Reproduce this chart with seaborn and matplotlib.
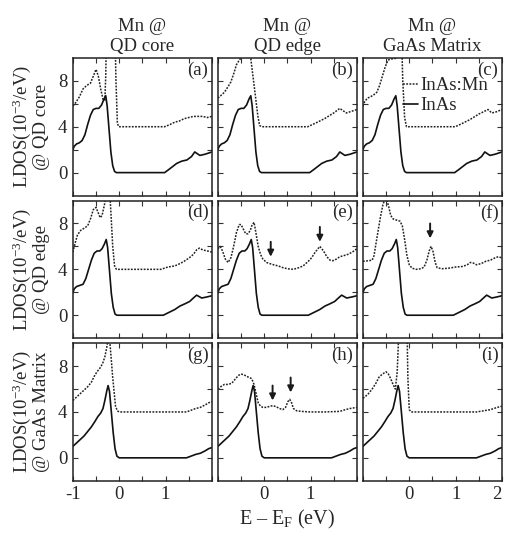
import matplotlib
matplotlib.use("Agg")
import matplotlib.pyplot as plt
import seaborn as sns

# Energy E - E_F (eV) and LDOS (10^-3/eV).
# Solid curves: pristine InAs, one per probe site (row).
E_core = [-1.0, -0.97, -0.92, -0.86, -0.8, -0.74, -0.68, -0.62, -0.56, -0.5, -0.44, -0.38, -0.33, -0.29,
          -0.26, -0.22, -0.18, -0.14, -0.1, -0.06, 0.0, 0.98, 1.08, 1.24, 1.35, 1.46, 1.56, 1.63, 1.74, 1.85, 2.0]
L_core = [2.0, 2.3, 2.5, 2.6, 2.8, 3.3, 4.2, 5.0, 5.5, 5.6, 5.6, 5.9, 6.4, 6.7,
          5.8, 3.8, 1.8, 0.6, 0.1, 0.0, 0.0, 0.0, 0.3, 0.8, 1.0, 1.1, 1.4, 1.8, 1.5, 1.6, 1.8]

E_edge = [-1.0, -0.97, -0.92, -0.85, -0.78, -0.72, -0.66, -0.6, -0.54, -0.48, -0.42, -0.37, -0.32, -0.28,
          -0.25, -0.21, -0.17, -0.13, -0.09, -0.05, 0.0, 0.95, 1.1, 1.2, 1.31, 1.42, 1.52, 1.6, 1.67, 1.78, 1.9, 2.0]
L_edge = [1.95, 2.3, 2.5, 2.6, 2.7, 3.2, 4.0, 4.8, 5.4, 5.6, 5.6, 5.8, 6.2, 6.6,
          5.9, 3.9, 1.9, 0.7, 0.1, 0.0, 0.0, 0.0, 0.3, 0.5, 0.8, 1.0, 1.2, 1.5, 1.75, 1.5, 1.6, 1.7]

E_mat = [-1.0, -0.92, -0.84, -0.76, -0.68, -0.6, -0.52, -0.46, -0.4, -0.35, -0.31, -0.27, -0.24,
         -0.21, -0.17, -0.13, -0.09, -0.05, 0.0, 1.45, 1.55, 1.65, 1.75, 1.85, 1.93, 2.0]
L_mat = [1.0, 1.3, 1.6, 1.9, 2.3, 2.7, 3.2, 3.6, 3.9, 4.3, 5.0, 5.8, 6.3,
         5.8, 4.0, 2.2, 0.8, 0.15, 0.0, 0.0, 0.15, 0.3, 0.4, 0.6, 0.8, 0.9]

# Dotted curves: InAs:Mn, one per panel (a)-(i); plotted with a vertical offset
E_a = [-1.0, -0.94, -0.86, -0.78, -0.7, -0.62, -0.56, -0.5, -0.45, -0.4, -0.35, -0.31, -0.29, -0.27,
       -0.1, -0.07, -0.04, -0.01, 0.98, 1.1, 1.2, 1.3, 1.4, 1.5, 1.6, 1.7, 1.8, 1.9, 2.0]
L_a = [1.8, 2.1, 2.6, 3.3, 3.6, 3.8, 4.4, 5.0, 4.4, 3.3, 2.4, 2.3, 4.5, 10.0,
       10.0, 4.0, 0.3, 0.0, 0.0, 0.2, 0.4, 0.5, 0.7, 0.8, 0.9, 0.9, 0.9, 0.8, 0.9]

E_b = [-1.0, -0.94, -0.86, -0.78, -0.72, -0.66, -0.6, -0.54, -0.48, -0.44, -0.32, -0.28, -0.2, -0.14,
       -0.1, -0.05, 0.94, 1.1, 1.3, 1.5, 1.63, 1.7, 1.77, 1.85, 2.0]
L_b = [2.5, 2.7, 3.0, 3.5, 3.9, 4.6, 5.4, 5.8, 6.1, 7.0, 7.0, 5.6, 3.0, 1.0,
       0.1, 0.0, 0.0, 0.3, 0.7, 1.2, 1.6, 1.4, 1.2, 1.3, 1.5]

E_c = [-1.0, -0.96, -0.9, -0.84, -0.76, -0.7, -0.64, -0.58, -0.52, -0.46, -0.4, -0.3, -0.26, -0.23,
       -0.18, -0.14, -0.1, -0.06, 0.99, 1.1, 1.3, 1.5, 1.6, 1.7, 1.78, 1.88, 2.0]
L_c = [1.8, 2.2, 2.5, 2.6, 2.8, 3.0, 3.6, 4.4, 5.2, 5.8, 5.9, 5.95, 6.3, 10.0,
       10.0, 4.0, 0.8, 0.0, 0.0, 0.2, 0.6, 1.1, 1.3, 1.5, 1.2, 1.3, 1.5]

E_d = [-1.0, -0.95, -0.9, -0.83, -0.75, -0.68, -0.62, -0.56, -0.5, -0.46, -0.41, -0.37, -0.32, -0.28,
       -0.25, -0.2, -0.14, -0.1, -0.06, 0.9, 1.05, 1.2, 1.31, 1.4, 1.51, 1.6, 1.67, 1.73, 1.8, 1.9, 2.0]
L_d = [1.5, 2.3, 3.0, 3.4, 3.6, 3.8, 4.4, 5.2, 5.4, 5.0, 4.5, 4.7, 5.6, 6.5,
       7.0, 6.5, 2.0, 0.3, 0.0, 0.0, 0.2, 0.3, 0.5, 0.7, 1.0, 1.3, 1.7, 1.85, 1.7, 1.6, 1.5]

E_e = [-1.0, -0.95, -0.9, -0.84, -0.78, -0.72, -0.66, -0.6, -0.54, -0.5, -0.45, -0.4, -0.35, -0.3,
       -0.26, -0.22, -0.18, -0.13, -0.08, -0.03, 0.05, 0.12, 0.2, 0.3, 0.4, 0.5, 0.63, 0.75, 0.84,
       0.95, 1.02, 1.1, 1.2, 1.28, 1.35, 1.42, 1.48, 1.56, 1.63, 1.72, 1.8, 1.9, 2.0]
L_e = [1.8, 2.0, 1.6, 0.9, 0.6, 1.0, 2.0, 3.2, 3.9, 3.9, 3.5, 3.1, 3.1, 3.4,
       3.9, 4.1, 3.2, 2.0, 1.3, 0.9, 0.6, 0.5, 0.4, 0.3, 0.15, 0.05, 0.0, 0.15, 0.3,
       0.7, 1.0, 1.5, 2.0, 1.6, 1.1, 0.8, 0.75, 0.9, 1.1, 1.2, 1.3, 1.5, 1.8]

E_f = [-1.0, -0.88, -0.8, -0.76, -0.72, -0.67, -0.62, -0.57, -0.53, -0.48, -0.44, -0.4, -0.35, -0.28,
       -0.2, -0.15, -0.1, -0.05, 0.0, 0.06, 0.15, 0.25, 0.32, 0.38, 0.43, 0.47, 0.51, 0.56, 0.6,
       0.7, 0.85, 1.0, 1.15, 1.25, 1.32, 1.38, 1.45, 1.55, 1.65, 1.75, 1.85, 1.92, 2.0]
L_f = [0.7, 0.75, 0.8, 1.2, 2.2, 3.4, 4.6, 5.6, 6.1, 6.0, 5.4, 4.7, 4.4, 4.3,
       4.2, 3.8, 2.6, 1.2, 0.4, 0.1, 0.0, 0.05, 0.2, 0.8, 1.6, 2.0, 1.6, 0.6, 0.15,
       0.05, 0.1, 0.2, 0.25, 0.4, 0.6, 0.55, 0.4, 0.5, 0.7, 0.8, 1.0, 1.1, 1.0]

E_g = [-1.0, -0.92, -0.84, -0.76, -0.68, -0.6, -0.54, -0.48, -0.42, -0.36, -0.31, -0.27, -0.24,
       -0.22, -0.2, -0.14, -0.08, -0.04, 0.0, 1.45, 1.55, 1.65, 1.75, 1.85, 1.93, 2.0]
L_g = [1.0, 1.3, 1.6, 1.9, 2.2, 2.6, 3.1, 3.5, 3.8, 4.2, 4.8, 5.6, 6.3,
       7.0, 6.0, 3.0, 0.5, 0.1, 0.0, 0.0, 0.15, 0.3, 0.4, 0.6, 0.8, 0.9]

E_h = [-1.0, -0.94, -0.86, -0.78, -0.7, -0.62, -0.55, -0.5, -0.44, -0.38, -0.32, -0.27, -0.22,
       -0.17, -0.13, -0.08, -0.03, 0.05, 0.12, 0.19, 0.26, 0.33, 0.4, 0.46, 0.51, 0.55, 0.59,
       0.63, 0.7, 0.8, 1.0, 1.3, 1.63, 1.75, 1.85, 2.0]
L_h = [2.0, 2.2, 2.4, 2.4, 2.5, 2.9, 3.2, 3.3, 3.25, 3.1, 3.0, 2.9, 2.4,
       1.5, 0.8, 0.5, 0.4, 0.4, 0.5, 0.55, 0.45, 0.3, 0.2, 0.4, 0.9, 1.1, 0.8,
       0.3, 0.1, 0.05, 0.0, 0.0, 0.05, 0.2, 0.3, 0.4]

E_i = [-1.0, -0.96, -0.88, -0.8, -0.72, -0.65, -0.58, -0.5, -0.45, -0.4, -0.35, -0.3, -0.26,
       -0.23, -0.2, -0.06, -0.03, 0.0, 0.04, 1.45, 1.6, 1.75, 1.9, 2.0]
L_i = [1.2, 1.3, 1.6, 2.0, 2.5, 3.05, 3.3, 3.5, 3.3, 2.9, 2.4, 2.0, 3.5,
       6.5, 10.0, 10.0, 3.0, 0.2, 0.0, 0.0, 0.1, 0.2, 0.4, 0.5]

MN_OFFSET = 4.0

# arrows marking Mn-induced states: (energy, tip height on plot)
arrows_e = [(0.14, 5.1), (1.2, 6.4)]
arrows_f = [(0.45, 6.7)]
arrows_h = [(0.18, 5.0), (0.57, 5.7)]

col_titles = ["Mn @\nQD core", "Mn @\nQD edge", "Mn @\nGaAs Matrix"]
row_labels = ["@ QD core", "@ QD edge", "@ GaAs Matrix"]
panel_tags = ["(a)", "(b)", "(c)", "(d)", "(e)", "(f)", "(g)", "(h)", "(i)"]
x_ticklabels = [["-1", "0", "1", ""], ["", "0", "1", ""], ["", "0", "1", "2"]]

host = [(E_core, L_core), (E_edge, L_edge), (E_mat, L_mat)]
doped = [[(E_a, L_a), (E_b, L_b), (E_c, L_c)],
         [(E_d, L_d), (E_e, L_e), (E_f, L_f)],
         [(E_g, L_g), (E_h, L_h), (E_i, L_i)]]
arrows = {(1, 1): arrows_e, (1, 2): arrows_f, (2, 1): arrows_h}

sns.set_theme(style="ticks")
plt.rcParams["font.family"] = ["Liberation Serif", "DejaVu Serif"]
plt.rcParams["mathtext.fontset"] = "custom"
plt.rcParams["mathtext.rm"] = "Liberation Serif"
plt.rcParams["mathtext.it"] = "Liberation Serif:italic"
FS = 13.5

fig, axes = plt.subplots(3, 3, figsize=(5.06, 5.36), dpi=100)
fig.subplots_adjust(left=0.144, right=0.992, top=0.892, bottom=0.103, wspace=0.043, hspace=0.036)

for r in range(3):
    for c in range(3):
        ax = axes[r, c]
        Em, Lm = doped[r][c]
        sns.lineplot(x=Em, y=[v + MN_OFFSET for v in Lm], ax=ax, color="#222222", lw=1.1,
                     linestyle=(0, (1.2, 0.9)), estimator=None, sort=False,
                     label="InAs:Mn" if (r, c) == (0, 2) else None)
        Eh, Lh = host[r]
        sns.lineplot(x=Eh, y=Lh, ax=ax, color="#111111", lw=1.2, estimator=None, sort=False,
                     label="InAs" if (r, c) == (0, 2) else None)

        for xa, ya in arrows.get((r, c), []):
            ax.annotate("", xy=(xa, ya), xytext=(xa, ya + 1.3),
                        arrowprops=dict(arrowstyle="-|>", color="k", lw=1.4, mutation_scale=9,
                                        shrinkA=0, shrinkB=0))

        ax.set_xlim(-1, 2)
        ax.set_ylim(-2, 10)
        ax.set_xticks([-1, 0, 1, 2])
        ax.set_xticks([-0.5, 0.5, 1.5], minor=True)
        ax.set_yticks([0, 4, 8])
        ax.set_yticks([2, 6], minor=True)
        ax.tick_params(which="both", direction="in", top=True, right=True, length=3.5,
                       width=0.8, labelsize=FS, pad=4, color="#333333")
        if r == 2:
            ax.set_xticklabels(x_ticklabels[c])
            if c == 2:
                ax.get_xticklabels()[-1].set_horizontalalignment("right")
        else:
            ax.set_xticklabels([])
        if c == 0:
            ax.set_yticklabels(["0", "4", "8"])
            ax.set_ylabel("LDOS(10$^{-3}$/eV)\n" + row_labels[r], fontsize=FS, linespacing=1.0)
            ax.yaxis.set_label_coords(-0.165, 0.5)
        else:
            ax.set_yticklabels([])
            ax.set_ylabel("")
        ax.set_xlabel("")
        if r == 0:
            ax.set_title(col_titles[c], fontsize=FS, pad=5, linespacing=1.2)
        for sp in ax.spines.values():
            sp.set_linewidth(1.1)
            sp.set_color("#222222")
        ax.text(0.975, 0.975, panel_tags[3 * r + c], transform=ax.transAxes,
                ha="right", va="top", fontsize=FS)
        if (r, c) == (0, 2):
            ax.legend(loc="upper left", bbox_to_anchor=(0.29, 0.86), frameon=False,
                      fontsize=FS, handlelength=0.8, handletextpad=0.1, borderpad=0,
                      borderaxespad=0, labelspacing=0.15)
        elif ax.get_legend() is not None:
            ax.get_legend().remove()

fig.text(287 / 506, 0.03, "E \u2013 E$_\\mathrm{F}$ (eV)", ha="center", va="center", fontsize=14.5)

fig.savefig("out.png", dpi=100)
